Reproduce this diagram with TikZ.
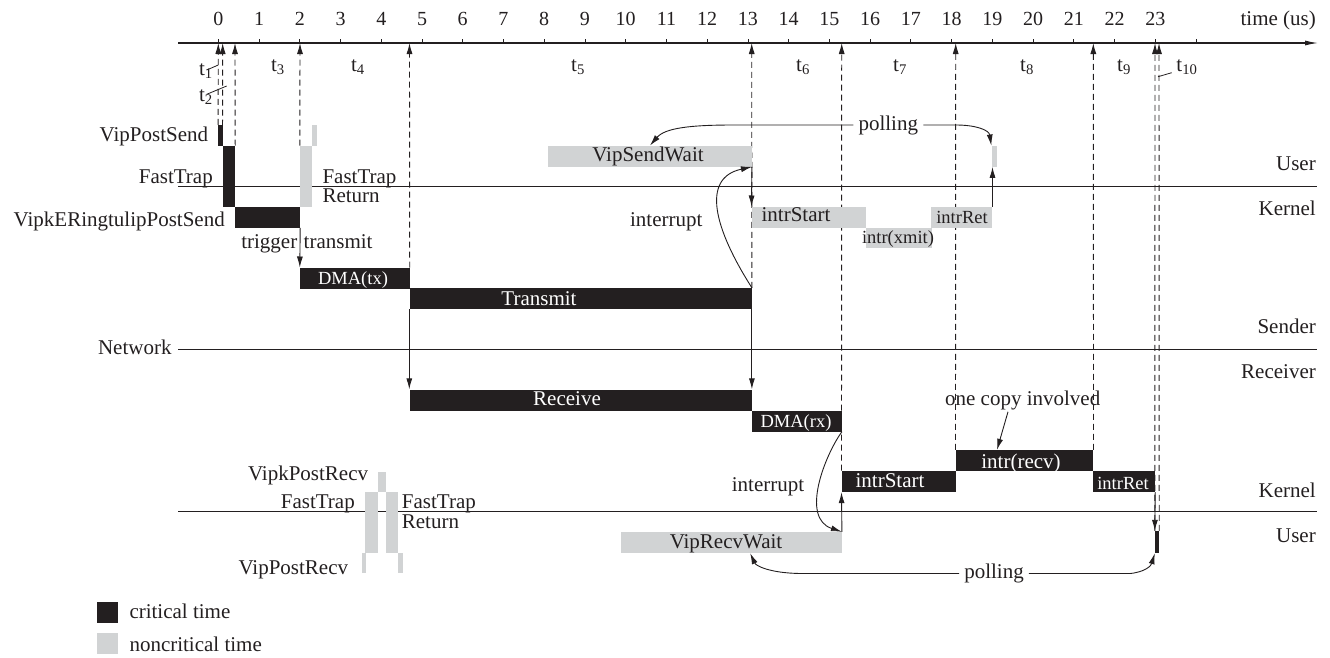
\documentclass[tikz,border=0pt]{standalone}
\usepackage{fontspec}
\setmainfont{Liberation Serif}
\usetikzlibrary{arrows.meta,fit,backgrounds}
\definecolor{ink}{HTML}{231F20}
\definecolor{lgrey}{HTML}{D1D3D4}
\begin{document}
\begin{tikzpicture}[x=1pt,y=-1pt,
  font=\fontsize{21}{24}\selectfont,
  bk/.style={fill=ink,draw=none,inner sep=0pt},
  gy/.style={fill=lgrey,draw=none,inner sep=0pt},
  lbl/.style={inner sep=0pt,text=ink},
  wlbl/.style={inner sep=0pt,text=white},
  small/.style={font=\fontsize{18.5}{20}\selectfont},
  dline/.style={draw=ink,line width=0.9pt,dash pattern=on 6pt off 4pt,-{Latex[length=11pt,width=6pt]}},
  sarrow/.style={draw=ink,line width=0.9pt,-{Latex[length=11pt,width=6pt]}},
  plain/.style={draw=ink,line width=0.8pt},
  hline/.style={draw=ink,line width=1.1pt}]
\useasboundingbox (0,0) rectangle (1330,657);

% ---------- time axis ----------
\draw[hline,-{Latex[length=13pt,width=5pt]}] (178,43) -- (1318,43);
\foreach \k in {0,...,24} \draw[plain] (218.3+40.74*\k,43) -- ++(0,-4);
\foreach \k in {0,...,23} \node[lbl,anchor=base,font=\fontsize{20}{22}\selectfont] at (218.3+40.74*\k,25) {\k};
\node[lbl,anchor=base east] (tlab) at (1316,25) {time (us)};
\foreach \n/\x in {a0/218.3,a1/222.7,a2/235,a3/300,a4/409.5,a5/751.7,a6/841.7,a7/955.7,a8/1093.3,a9/1155,a10/1159}
  \coordinate (\n) at (\x,43);

% ---------- bars (sender) ----------
\node[bk,fit={(218.3,125) (222.7,145.7)}] (vps) {};
\node[bk,fit={(222.7,145.7) (235,206.7)}] (ft) {};
\node[bk,fit={(235,206.7) (300,227.7)}] (vkp) {};
\node[gy,fit={(300,145.7) (312.3,206.7)}] (ftr) {};
\node[gy,fit={(311.7,125) (316.5,145.7)}] (ftr2) {};
\node[gy,fit={(548.3,145.7) (751.7,166.7)}] (sw) {};
\node[gy,fit={(751.7,206.7) (866,227.7)}] (isS) {};
\node[gy,fit={(866,227.7) (931.5,248.3)}] (ixm) {};
\node[gy,fit={(931,206.7) (992.3,227.7)}] (irS) {};
\node[gy,fit={(991.5,145.7) (996.5,166.7)}] (pg) {};
\node[bk,fit={(300,267.7) (409.5,288.5)}] (dtx) {};
\node[bk,fit={(409.5,288) (751.7,309)}] (tr) {};
% ---------- bars (receiver) ----------
\node[bk,fit={(409.5,389.5) (751.7,410.7)}] (rc) {};
\node[bk,fit={(751.7,410.7) (841.7,431.5)}] (drx) {};
\node[bk,fit={(841.7,470.7) (955.7,492)}] (isR) {};
\node[bk,fit={(955.7,450) (1093.3,471)}] (irc) {};
\node[bk,fit={(1093.3,471) (1155,492)}] (irR) {};
\node[gy,fit={(621,532) (841.7,553)}] (rw) {};
\node[bk,fit={(1155,531) (1159,553)}] (fin) {};
\node[gy,fit={(378.3,471.7) (386,491.7)}] (vkpr) {};
\node[gy,fit={(365,491.7) (378.3,553.3)}] (ftl) {};
\node[gy,fit={(385.7,491.7) (398.3,553.3)}] (ftrr) {};
\node[gy,fit={(361.7,553.3) (365.7,573.3)}] (vpr1) {};
\node[gy,fit={(398.3,553.3) (402.7,573.3)}] (vpr2) {};

\begin{pgfonlayer}{background}
% ---------- lane lines ----------
\draw[hline] (178,186.7) -- (1317,186.7);
\draw[hline] (178,349.3) -- (1317,349.3);
\draw[hline] (178,511.7) -- (1317,511.7);
% ---------- dashed time marks ----------
\draw[dline] (vps.north west) -- (a0);
\draw[dline] (ft.north west) -- (a1);
\draw[dline] (ft.north east) -- (a2);
\draw[dline] (ftr.north west) -- (a3);
\draw[dline] (dtx.north east) -- (a4);
\draw[dline] (tr.north east) -- (a5);
\draw[dline] (isR.north west) -- (a6);
\draw[dline] (irc.north west) -- (a7);
\draw[dline] (irc.north east) -- (a8);
\draw[dline] (fin.north west) -- (a9);
\draw[dline] (fin.north east) -- (a10);
\end{pgfonlayer}

% ---------- interval labels ----------
\node[lbl,anchor=base east] (t1) at (213,75) {t\textsubscript{1}};
\node[lbl,anchor=base east] (t2) at (213,101.7) {t\textsubscript{2}};
\draw[plain] (206.7,70) -- (218.3,65);
\draw[plain] (206.7,94.3) -- (226.7,86);
\node[lbl,anchor=base] (t3) at (278,71.7) {t\textsubscript{3}};
\node[lbl,anchor=base] (t4) at (358,71.7) {t\textsubscript{4}};
\node[lbl,anchor=base] (t5) at (578,71.7) {t\textsubscript{5}};
\node[lbl,anchor=base] (t6) at (803,71.7) {t\textsubscript{6}};
\node[lbl,anchor=base] (t7) at (900,71.7) {t\textsubscript{7}};
\node[lbl,anchor=base] (t8) at (1027,71.7) {t\textsubscript{8}};
\node[lbl,anchor=base] (t9) at (1124,71.7) {t\textsubscript{9}};
\node[lbl,anchor=base] (t10) at (1187,71.7) {t\textsubscript{10}};
\draw[plain] (1158,76.7) -- (1171.7,72.7);

% ---------- bar texts ----------
\node[wlbl,anchor=base] at (539,305) {Transmit};
\node[wlbl,anchor=base] at (567,405.7) {Receive};
\node[wlbl,small,anchor=base] at (353,284.3) {DMA(tx)};
\node[wlbl,small,anchor=base] at (796,427.7) {DMA(rx)};
\node[lbl,anchor=base] at (648,161.7) {VipSendWait};
\node[lbl,anchor=base] at (796,221.7) {intrStart};
\node[lbl,small,anchor=base] at (898,243.3) {intr(xmit)};
\node[lbl,small,anchor=base] at (962,223.3) {intrRet};
\node[wlbl,anchor=base] at (890,487.3) {intrStart};
\node[wlbl,anchor=base] at (1021,468) {intr(recv)};
\node[wlbl,small,anchor=base] at (1123,489) {intrRet};
\node[lbl,anchor=base] at (726,548.3) {VipRecvWait};

% ---------- side labels ----------
\node[lbl,anchor=base east] at (208.3,141.7) {VipPostSend};
\node[lbl,anchor=base east] at (213,183.3) {FastTrap};
\node[lbl,anchor=base east] at (225,226.7) {VipkERingtulipPostSend};
\node[lbl,anchor=base west] at (322.3,183.3) {FastTrap};
\node[lbl,anchor=base west] at (322.3,202.7) {Return};
\node[lbl,anchor=base east] at (297.5,248.3) {trigger};
\node[lbl,anchor=base west] at (303.5,248.3) {transmit};
\node[lbl,anchor=base east] at (171.7,354.3) {Network};
\node[lbl,anchor=base east] at (1316,170) {User};
\node[lbl,anchor=base east] at (1316,215) {Kernel};
\node[lbl,anchor=base east] at (1316,333.3) {Sender};
\node[lbl,anchor=base east] at (1316,378.3) {Receiver};
\node[lbl,anchor=base east] at (1316,497.5) {Kernel};
\node[lbl,anchor=base east] at (1316,542) {User};
\node[lbl,anchor=base east] at (368.3,480) {VipkPostRecv};
\node[lbl,anchor=base east] at (355,508.3) {FastTrap};
\node[lbl,anchor=base west] at (401.7,508.3) {FastTrap};
\node[lbl,anchor=base west] at (401.7,528.3) {Return};
\node[lbl,anchor=base east] at (348.3,574) {VipPostRecv};
\node[lbl,anchor=base] at (666.3,226) {interrupt};
\node[lbl,anchor=base] at (768,491.5) {interrupt};

% ---------- solid arrows ----------
\draw[sarrow] (vkp.south east) -- (dtx.north west);
\draw[sarrow] (tr.south west) -- (rc.north west);
\draw[sarrow] (tr.south east) -- (rc.north east);
\draw[sarrow] (sw.south east) -- (isS.north west);
\draw[sarrow] (irS.north east) -- (irS.north east |- pg.south);
\draw[sarrow] (rw.north east) -- (isR.south west);
\draw[sarrow] (irR.south east) -- (fin.north west);

% ---------- curves ----------
\draw[sarrow] (tr.north east) .. controls (715,230) and (700,178) .. (sw.south east);
\draw[sarrow] (drx.south east) .. controls (825,455) and (800,518) .. (rw.north east);

\node[lbl,inner sep=5pt] (pollS) at (888.3,125) {polling};
\draw[sarrow] (pollS.west) -- (733,125) .. controls (690,125) and (665,128) .. (sw.north);
\draw[sarrow] (pollS.east) -- (956,125) .. controls (976,125) and (989,130) .. (pg.north west);

\node[lbl,inner sep=5pt] (pollR) at (994,573.5) {polling};
\draw[sarrow] (pollR.west) -- (800,573.5) .. controls (770,573) and (756,566) .. (rw.south -| 750.2,0);
\draw[sarrow] (pollR.east) -- (1130,573.5) .. controls (1145,572) and (1151,566) .. (fin.south west);

\node[lbl,inner sep=2pt] (oc) at (1022.7,400) {one copy involved};
\draw[sarrow] (oc.south -| 1008,0) -- (irc.north -| 997,0);

% ---------- legend ----------
\node[bk,fit={(96.7,601.7) (117.7,622.7)}] (lk) {};
\node[gy,fit={(96.7,633.3) (117.7,654.3)}] (lg) {};
\node[lbl,anchor=base west] at (129.3,618.3) {critical time};
\node[lbl,anchor=base west] at (129.3,651) {noncritical time};
\end{tikzpicture}
\end{document}
